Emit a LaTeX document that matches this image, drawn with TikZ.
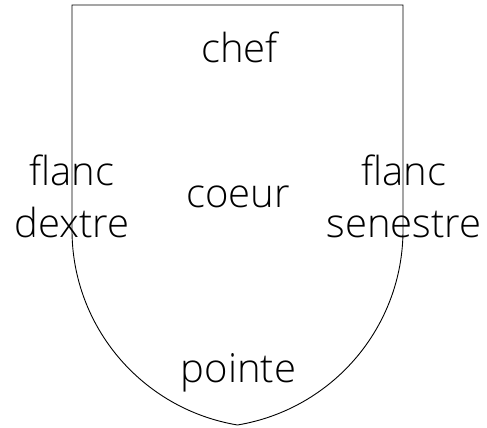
\documentclass[tikz,border=0pt]{standalone}
\usepackage{fontspec}
\setmainfont{Open Sans Light}
\begin{document}
\begin{tikzpicture}[x=1pt,y=-1pt,
  lbl/.style={font=\fontsize{40}{52}\selectfont, inner sep=0pt, anchor=base, align=center},
  shield/.style={draw=black, line width=0.9pt}]
\useasboundingbox (0,0) rectangle (487,428);
\coordinate (tl) at (72,5);
\coordinate (tr) at (403,5);
\coordinate (bl) at (72,230);
\coordinate (br) at (403,230);
\coordinate (pt) at (237.5,425);
\draw[shield] (bl) -- (tl) -- (tr) -- (br)
  .. controls (403,326.5) and (333.2,409) .. (pt)
  .. controls (141.8,409) and (72,326.5) .. (bl) -- cycle;
\node[lbl] (chef) at (239.5,63) {chef};
\node[lbl] (coeur) at (238,207) {coeur};
\node[lbl] (pointe) at (238.5,382) {pointe};
\node[lbl] (fd) at (72,237) {flanc\\dextre};
\node[lbl] (fs) at (404,237) {flanc\\senestre};
\end{tikzpicture}
\end{document}
